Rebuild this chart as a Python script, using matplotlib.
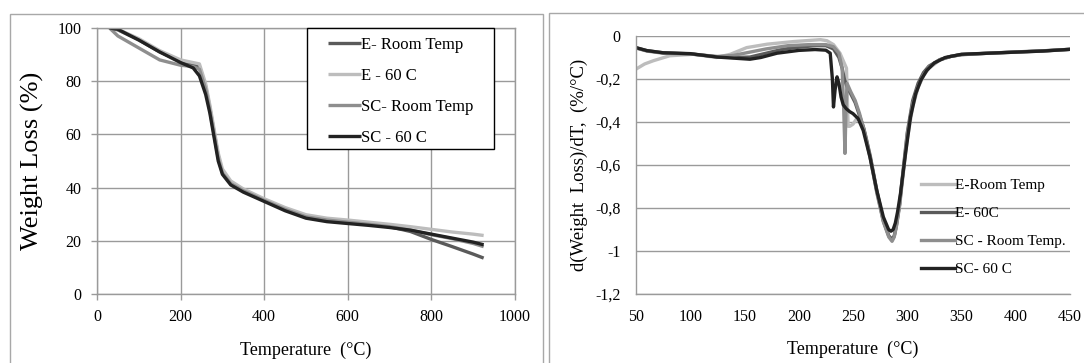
import matplotlib
matplotlib.use("Agg")
import matplotlib.pyplot as plt
from matplotlib.patches import Rectangle

plt.rcParams["font.family"] = ["Liberation Serif", "DejaVu Serif"]

# ---------------- TGA: weight vs temperature ----------------
tga_temp = [30, 50, 100, 150, 200, 230, 245, 260, 270, 280, 290, 300, 320, 350,
            400, 450, 500, 550, 600, 650, 700, 750, 800, 850, 900, 925]
tga_e_room = [100, 99.3, 95.5, 91, 87.5, 86.2, 85.5, 78, 70, 61, 52, 46, 41.8, 39,
              35.2, 31.8, 29, 27.8, 27, 26.2, 25.3, 23.5, 20.5, 17.8, 15, 13.5]
tga_e_60 = [100, 99.5, 96, 91.5, 88, 87, 86.5, 79, 71, 62, 53, 47, 42.5, 39.5,
            35.8, 32.5, 29.8, 28.5, 27.8, 27, 26.2, 25.3, 24.3, 23.3, 22.5, 22]
tga_sc_room = [100, 97, 92.5, 88, 86, 85.5, 84.5, 77, 69, 60, 51, 45.5, 41.5, 38.8,
               35.2, 31.8, 29, 27.8, 27, 26.2, 25.3, 24, 22.3, 20.8, 19, 17.8]
tga_sc_60 = [100, 99.5, 95.5, 91, 87, 85, 82, 75, 68, 59, 50, 45, 41, 38.3,
             34.8, 31.3, 28.5, 27.2, 26.5, 25.8, 25, 24, 22.5, 21, 19.5, 18.5]
tga_labels = ["E- Room Temp", "E - 60 C", "SC- Room Temp", "SC - 60 C"]

# ---------------- DTG: derivative vs temperature ----------------
dtg_sc60_t = [50, 60, 75, 100, 125, 140, 155, 165, 180, 200, 215, 225, 229, 231, 232,
              233.5, 235.3, 237, 239, 241, 243.75, 247, 250, 254.7, 259.4, 265.6,
              271.9, 278, 282.8, 285, 287, 289, 291, 293.75, 298.4, 303, 307.8,
              312.5, 318, 325, 335, 350, 375, 400, 425, 450]
dtg_sc60_v = [-0.054, -0.068, -0.078, -0.082, -0.098, -0.103, -0.108, -0.1, -0.08,
              -0.067, -0.063, -0.066, -0.08, -0.2, -0.33, -0.25, -0.19, -0.22,
              -0.284, -0.32, -0.338, -0.352, -0.361, -0.384, -0.439, -0.563,
              -0.718, -0.842, -0.9, -0.908, -0.9, -0.87, -0.82, -0.733, -0.547,
              -0.377, -0.268, -0.206, -0.16, -0.125, -0.1, -0.085, -0.08, -0.075,
              -0.07, -0.062]

dtg_e60_t = [50, 60, 75, 100, 125, 140, 155, 170, 185, 200, 215, 225, 232, 237, 240,
             242, 244, 248, 252, 256, 260, 266, 272, 278, 283, 286, 288, 290, 293,
             295, 300, 305, 310, 315, 320, 330, 340, 350, 375, 400, 425, 450]
dtg_e60_v = [-0.055, -0.068, -0.078, -0.083, -0.097, -0.1, -0.098, -0.08, -0.062,
             -0.052, -0.045, -0.045, -0.06, -0.1, -0.15, -0.2, -0.23, -0.27, -0.31,
             -0.37, -0.43, -0.56, -0.72, -0.86, -0.93, -0.945, -0.93, -0.88, -0.78,
             -0.68, -0.45, -0.3, -0.22, -0.17, -0.14, -0.11, -0.095, -0.086, -0.08,
             -0.074, -0.069, -0.062]

dtg_scr_t = [50, 60, 75, 100, 125, 140, 155, 170, 190, 210, 225, 232, 237, 240,
             241.5, 242.6, 243.5, 244.5, 248, 252, 256, 260, 266, 272, 278, 283,
             286, 288, 290, 293, 295, 300, 305, 310, 315, 320, 330, 340, 350, 375,
             400, 425, 450]
dtg_scr_v = [-0.056, -0.07, -0.08, -0.084, -0.095, -0.09, -0.075, -0.06, -0.045,
             -0.04, -0.04, -0.05, -0.08, -0.15, -0.35, -0.546, -0.35, -0.22, -0.26,
             -0.3, -0.36, -0.435, -0.57, -0.73, -0.865, -0.935, -0.955, -0.935,
             -0.885, -0.785, -0.69, -0.46, -0.315, -0.235, -0.18, -0.145, -0.11,
             -0.095, -0.087, -0.08, -0.075, -0.07, -0.062]

dtg_er_t = [50, 58, 66, 81, 103, 124, 137, 152, 171, 195, 220, 226, 232, 238, 244,
            245.5, 247, 250, 254, 258, 262, 266, 272, 278, 283, 286, 288, 290, 293,
            295, 300, 305, 310, 315, 320, 330, 340, 350, 375, 400, 425, 450]
dtg_er_v = [-0.154, -0.13, -0.115, -0.092, -0.085, -0.1, -0.085, -0.054, -0.038,
            -0.026, -0.017, -0.022, -0.04, -0.08, -0.15, -0.42, -0.42, -0.41, -0.38,
            -0.4, -0.47, -0.57, -0.73, -0.86, -0.93, -0.95, -0.93, -0.885, -0.79,
            -0.7, -0.48, -0.33, -0.24, -0.185, -0.15, -0.112, -0.095, -0.087,
            -0.08, -0.075, -0.069, -0.062]
dtg_labels = ["E-Room Temp", "E- 60C", "SC - Room Temp.", "SC- 60 C"]

dtg_yticks = [0, -0.2, -0.4, -0.6, -0.8, -1.0, -1.2]
dtg_yticklabels = ["0", "-0,2", "-0,4", "-0,6", "-0,8", "-1", "-1,2"]

DARK = "#5a5a5a"
LIGHT = "#bdbdbd"
MID = "#8e8e8e"
BLACK = "#222222"
GRID = "#9a9a9a"
LW = 2.4

W, H = 1084, 363
fig = plt.figure(figsize=(W / 100, H / 100), dpi=100)

# panel frames
fig.patches.append(Rectangle((10 / W, -0.05), 533 / W, (H - 14) / H + 0.05,
                             transform=fig.transFigure, fill=False,
                             edgecolor="#a8a8a8", linewidth=1.0))
fig.patches.append(Rectangle((549 / W, -0.05), 600 / W, (H - 13) / H + 0.05,
                             transform=fig.transFigure, fill=False,
                             edgecolor="#a8a8a8", linewidth=1.0))

# ---- left panel ----
ax1 = fig.add_axes([97 / W, 69 / H, 418 / W, 266 / H])
ax1.plot(tga_temp, tga_e_room, color=DARK, lw=LW, label=tga_labels[0], solid_capstyle="butt")
ax1.plot(tga_temp, tga_e_60, color=LIGHT, lw=LW, label=tga_labels[1], solid_capstyle="butt")
ax1.plot(tga_temp, tga_sc_room, color=MID, lw=LW, label=tga_labels[2], solid_capstyle="butt")
ax1.plot(tga_temp, tga_sc_60, color=BLACK, lw=LW, label=tga_labels[3], solid_capstyle="butt")
ax1.set_xlim(0, 1000)
ax1.set_ylim(0, 100)
ax1.set_xticks(range(0, 1001, 200))
ax1.set_yticks(range(0, 101, 20))
ax1.grid(True, color=GRID, lw=1.0)
ax1.set_axisbelow(True)
for s in ax1.spines.values():
    s.set_color(GRID)
    s.set_linewidth(1.0)
ax1.tick_params(direction="out", length=4, width=1.0, color=GRID,
                labelsize=11.5, pad=7)
ax1.set_xlabel("Temperature  (\u00b0C)", fontsize=13, labelpad=12)
ax1.set_ylabel("Weight Loss (%)", fontsize=19, labelpad=10)

# legend entries with a separately drawn square frame
x0 = 97
y_top = 28
ax_w, ax_h = 418, 266
def to_ax(px, py):
    return (px - x0) / ax_w, 1 - (py - y_top) / ax_h

leg_anchor = to_ax(328, 37)
leg1 = ax1.legend(loc="upper left", bbox_to_anchor=leg_anchor, borderaxespad=0,
                  frameon=False, fontsize=12, handlelength=2.0,
                  handletextpad=0.0, labelspacing=0.9, borderpad=0.0)
fx0, fy1 = to_ax(307, 28)
fx1, fy0 = to_ax(494, 149)
ax1.add_patch(Rectangle((fx0, fy0), fx1 - fx0, fy1 - fy0, transform=ax1.transAxes,
                        fill=True, facecolor="white", edgecolor="black",
                        linewidth=1.0, zorder=4, clip_on=False))
leg1.set_zorder(5)

# ---- right panel ----
ax2 = fig.add_axes([636 / W, 69 / H, 434 / W, 258 / H])
ax2.plot(dtg_er_t, dtg_er_v, color=LIGHT, lw=LW, label=dtg_labels[0])
ax2.plot(dtg_e60_t, dtg_e60_v, color=DARK, lw=LW, label=dtg_labels[1])
ax2.plot(dtg_scr_t, dtg_scr_v, color=MID, lw=LW, label=dtg_labels[2])
ax2.plot(dtg_sc60_t, dtg_sc60_v, color=BLACK, lw=LW, label=dtg_labels[3])
ax2.set_xlim(50, 450)
ax2.set_ylim(-1.2, 0)
ax2.set_xticks(range(50, 451, 50))
ax2.set_yticks(dtg_yticks)
ax2.set_yticklabels(dtg_yticklabels)
ax2.grid(True, axis="y", color=GRID, lw=1.0)
ax2.set_axisbelow(True)
for side in ("top", "right"):
    ax2.spines[side].set_visible(False)
for side in ("left", "bottom"):
    ax2.spines[side].set_color(GRID)
    ax2.spines[side].set_linewidth(1.0)
ax2.tick_params(length=0, labelsize=11.5, pad=11)
ax2.tick_params(axis="x", pad=11)
ax2.set_xlabel("Temperature  (\u00b0C)", fontsize=13, labelpad=11)
ax2.set_ylabel("d(Weight  Loss)/dT,  (%/\u00b0C)", fontsize=13.5, labelpad=5)
ax2.legend(loc="upper left", bbox_to_anchor=(0.657, 0.447), borderaxespad=0,
           frameon=False, fontsize=11, handlelength=2.2, handletextpad=0.0,
           labelspacing=0.93, borderpad=0.0)

fig.savefig("out.png", dpi=100)
